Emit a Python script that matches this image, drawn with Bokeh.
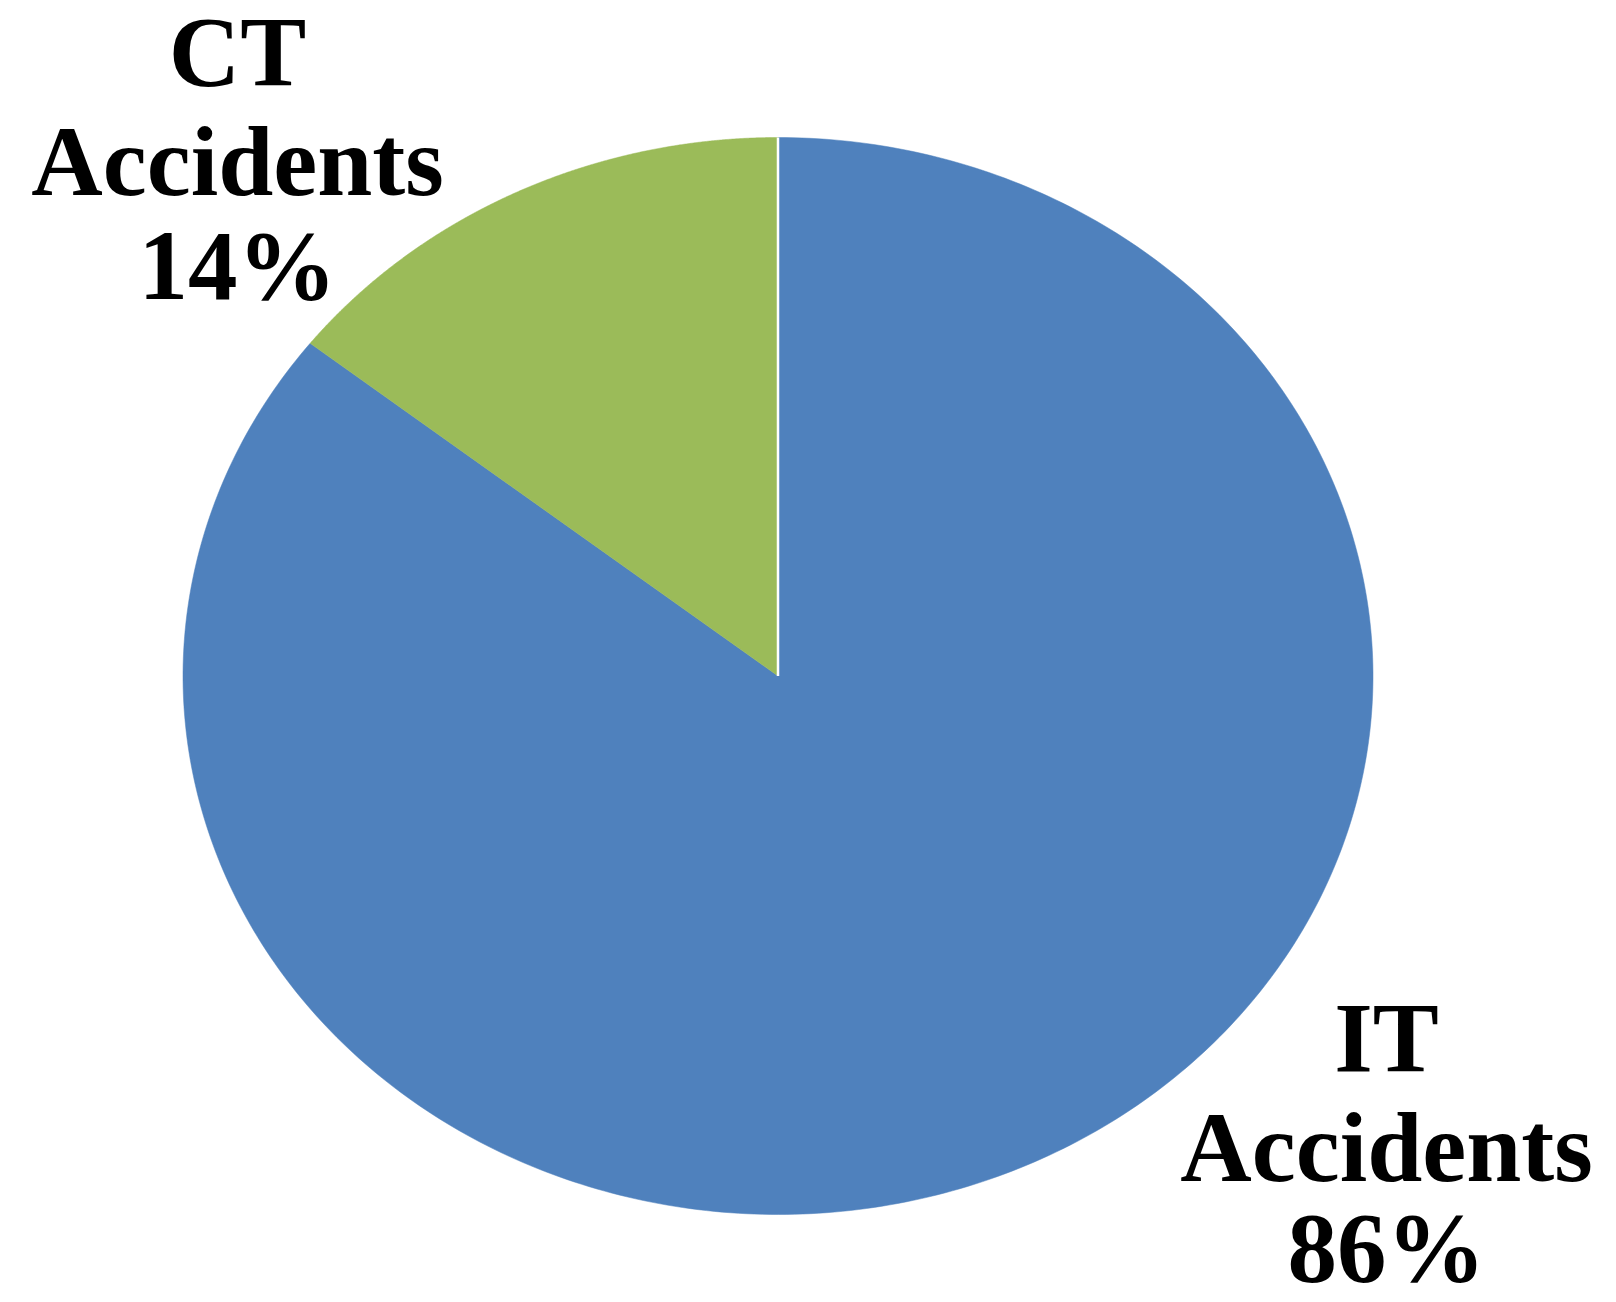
import numpy as np
from bokeh.plotting import figure
from bokeh.models import Range1d
from bokeh.core.properties import value
from bokeh.embed import file_html
from bokeh.resources import INLINE

# ---- data ----
categories = ["IT", "CT"]
values = [85.6, 14.4]
pct_labels = ["86%", "14%"]
colors = ["#4F81BD", "#9BBB59"]

# ---- layout ----
W, H = 1600, 1286
cx_px, cy_px = 777.5, 675.5      # pie centre in pixels (from top-left)
rx_px, ry_px = 595.0, 538.5      # pixel radii of the (elliptical) pie

x0 = -cx_px / rx_px
x1 = (W - cx_px) / rx_px
y1 = cy_px / ry_px
y0 = -(H - cy_px) / ry_px

p = figure(width=W, height=H, output_backend="svg", toolbar_location=None,
           x_range=Range1d(x0, x1), y_range=Range1d(y0, y1),
           min_border=0, outline_line_color=None)
p.axis.visible = False
p.grid.visible = False

# ---- slices clockwise from 12 o'clock ----
total = float(sum(values))
fracs = np.cumsum([0.0] + [v / total for v in values])
for i in range(len(values)):
    a0 = np.pi / 2 - 2 * np.pi * fracs[i]
    a1 = np.pi / 2 - 2 * np.pi * fracs[i + 1]
    t = np.linspace(a0, a1, 400)
    px = [0.0] + [float(v) for v in np.cos(t)] + [0.0]
    py = [0.0] + [float(v) for v in np.sin(t)] + [0.0]
    p.patch(px, py, fill_color=colors[i], line_color=colors[i], line_width=0.5)

# white separator at the start angle (12 o'clock)
sa = np.pi / 2 - 2 * np.pi * fracs[0]
p.line([0.0, float(np.cos(sa))], [0.0, float(np.sin(sa))], line_color="white", line_width=2.5)

# ---- labels (pixel positions converted to data units; shifted up 31 px) ----
label_pos = {
    "CT": (237, [51, 161, 265]),
    "IT": (1386, [1037, 1147, 1247]),
}
tx, ty, tt = [], [], []
for cat, pct in zip(categories, pct_labels):
    lx, lys = label_pos[cat]
    for txt, ly in zip([cat, "Accidents", pct], lys):
        tx.append((lx - cx_px) / rx_px)
        ty.append((cy_px - ly) / ry_px)
        tt.append(txt)

# note: a size like "100px" together with bold breaks the SVG font parser
p.text(x=tx, y=ty, text=tt, text_font=value("Liberation Serif"),
       text_font_size="99px", text_font_style="bold", text_color="black",
       text_align="center", text_baseline="alphabetic")

open("out.html", "w").write(file_html(p, INLINE))
